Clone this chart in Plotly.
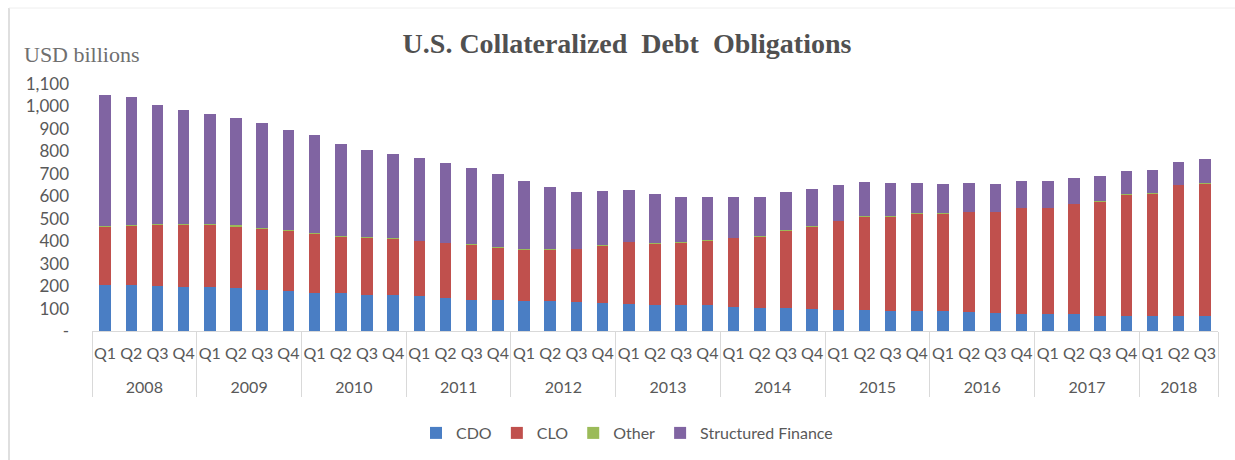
import plotly.graph_objects as go

# Quarterly outstanding U.S. collateralized debt obligations, USD billions
years = ["2008", "2009", "2010", "2011", "2012", "2013",
         "2014", "2015", "2016", "2017", "2018"]
quarters = ["Q1", "Q2", "Q3", "Q4"]

cdo = [207, 204, 202, 198, 198, 192, 183, 180, 171, 168, 159, 159,
       154, 147, 139, 136, 133, 133, 127, 124, 121, 118, 118, 115,
       106, 102, 102, 100, 94, 94, 91, 91, 87, 84, 81, 77,
       74, 74, 69, 66, 66, 65, 65]
clo = [258, 266, 272, 276, 276, 275, 273, 267, 262, 254, 257, 254,
       247, 245, 247, 235, 232, 232, 239, 258, 276, 272, 278, 290,
       309, 321, 347, 367, 396, 418, 421, 433, 437, 446, 449, 471,
       474, 492, 509, 543, 548, 586, 593]
other = [3, 3, 3, 3, 3, 3, 3, 3, 3, 3, 2, 2,
         2, 2, 2, 2, 2, 2, 1, 1, 1, 1, 1, 1,
         1, 1, 1, 1, 1, 1, 1, 1, 1, 1, 1, 1,
         1, 1, 1, 1, 1, 1, 1]
structured_finance = [583, 567, 528, 507, 488, 477, 466, 445, 435, 410, 390, 375,
                      368, 355, 338, 327, 300, 273, 250, 239, 228, 217, 202, 193,
                      183, 171, 167, 163, 158, 149, 145, 133, 128, 127, 122, 118,
                      118, 115, 112, 101, 102, 101, 105]

y_ticks = [0, 100, 200, 300, 400, 500, 600, 700, 800, 900, 1000, 1100]
y_tick_text = ["-", "100", "200", "300", "400", "500", "600", "700",
               "800", "900", "1,000", "1,100"]

# multicategory x: (year, quarter) for each observation, last year ends at Q3.
# The quarter label carries an empty second line so the year row sits lower.
n = len(cdo)
x_year = [years[i // 4] for i in range(n)]
x_quarter = [quarters[i % 4] + "<br>\u00a0" for i in range(n)]
x = [x_year, x_quarter]

series = [
    ("CDO", cdo, "#4A7EC4"),
    ("CLO", clo, "#C0504D"),
    ("Other", other, "#9BBB59"),
    ("Structured Finance", structured_finance, "#8064A2"),
]

fig = go.Figure()
for name, vals, color in series:
    fig.add_trace(go.Bar(x=x, y=vals, name=name, marker=dict(color=color, line=dict(width=0))))

W, H = 1235, 460
ml, mr, mt, mb = 92, 17, 84, 129
pw, ph = W - ml - mr, H - mt - mb


def px_to_paper(px, py):
    return (px - ml) / pw, (H - mb - py) / ph


font_family = "Lato, Carlito, sans-serif"
x_tick_font = dict(family=font_family, size=16, color="#595959")
y_tick_font = dict(family=font_family, size=17, color="#595959")

fig.update_layout(
    width=W, height=H,
    margin=dict(l=ml, r=mr, t=mt, b=mb, autoexpand=False),
    barmode="stack",
    bargap=0.56,
    plot_bgcolor="white",
    paper_bgcolor="white",
    title=dict(
        text="<b>U.S. Collateralized  Debt  Obligations</b>",
        font=dict(family="Liberation Serif, Times New Roman, serif", size=28, color="#505050"),
        x=627 / W, xref="container", xanchor="center",
        y=1 - 43 / H, yref="container", yanchor="middle",
    ),
    showlegend=True,
    legend=dict(
        orientation="h",
        x=px_to_paper(627, 433)[0], y=px_to_paper(627, 433)[1],
        xanchor="center", yanchor="middle",
        font=dict(family=font_family, size=16, color="#595959"),
        traceorder="normal",
        itemwidth=30,
    ),
    xaxis=dict(
        type="multicategory",
        showline=True, linecolor="#d9d9d9", linewidth=1,
        showgrid=False, ticks="",
        tickfont=x_tick_font,
        tickangle=0,
        ticklabelstandoff=8,
        showdividers=True, dividercolor="#d9d9d9", dividerwidth=1,
        automargin=False,
    ),
    yaxis=dict(
        range=[0, 1100],
        tickvals=y_ticks, ticktext=y_tick_text,
        showgrid=False, zeroline=False, showline=False,
        ticks="", tickfont=y_tick_font,
        ticklabelstandoff=22,
        automargin=False,
    ),
)

ux, uy = px_to_paper(22, 55)
fig.add_annotation(
    text="USD billions", x=ux, y=uy, xref="paper", yref="paper",
    xanchor="left", yanchor="middle", showarrow=False,
    font=dict(family="Liberation Serif, Times New Roman, serif", size=22, color="#6f6f6f"),
)

# light frame on the left and top edges of the chart area
lx0, ly0 = px_to_paper(9, 460)
lx1, ly1 = px_to_paper(1235, 8)
fig.add_shape(type="line", xref="paper", yref="paper", x0=lx0, x1=lx0, y0=ly0, y1=ly1,
              line=dict(color="#d4d4d4", width=1.5))
fig.add_shape(type="line", xref="paper", yref="paper", x0=lx0, x1=lx1, y0=ly1, y1=ly1,
              line=dict(color="#eeeeee", width=1))

fig.write_html("out.html")
